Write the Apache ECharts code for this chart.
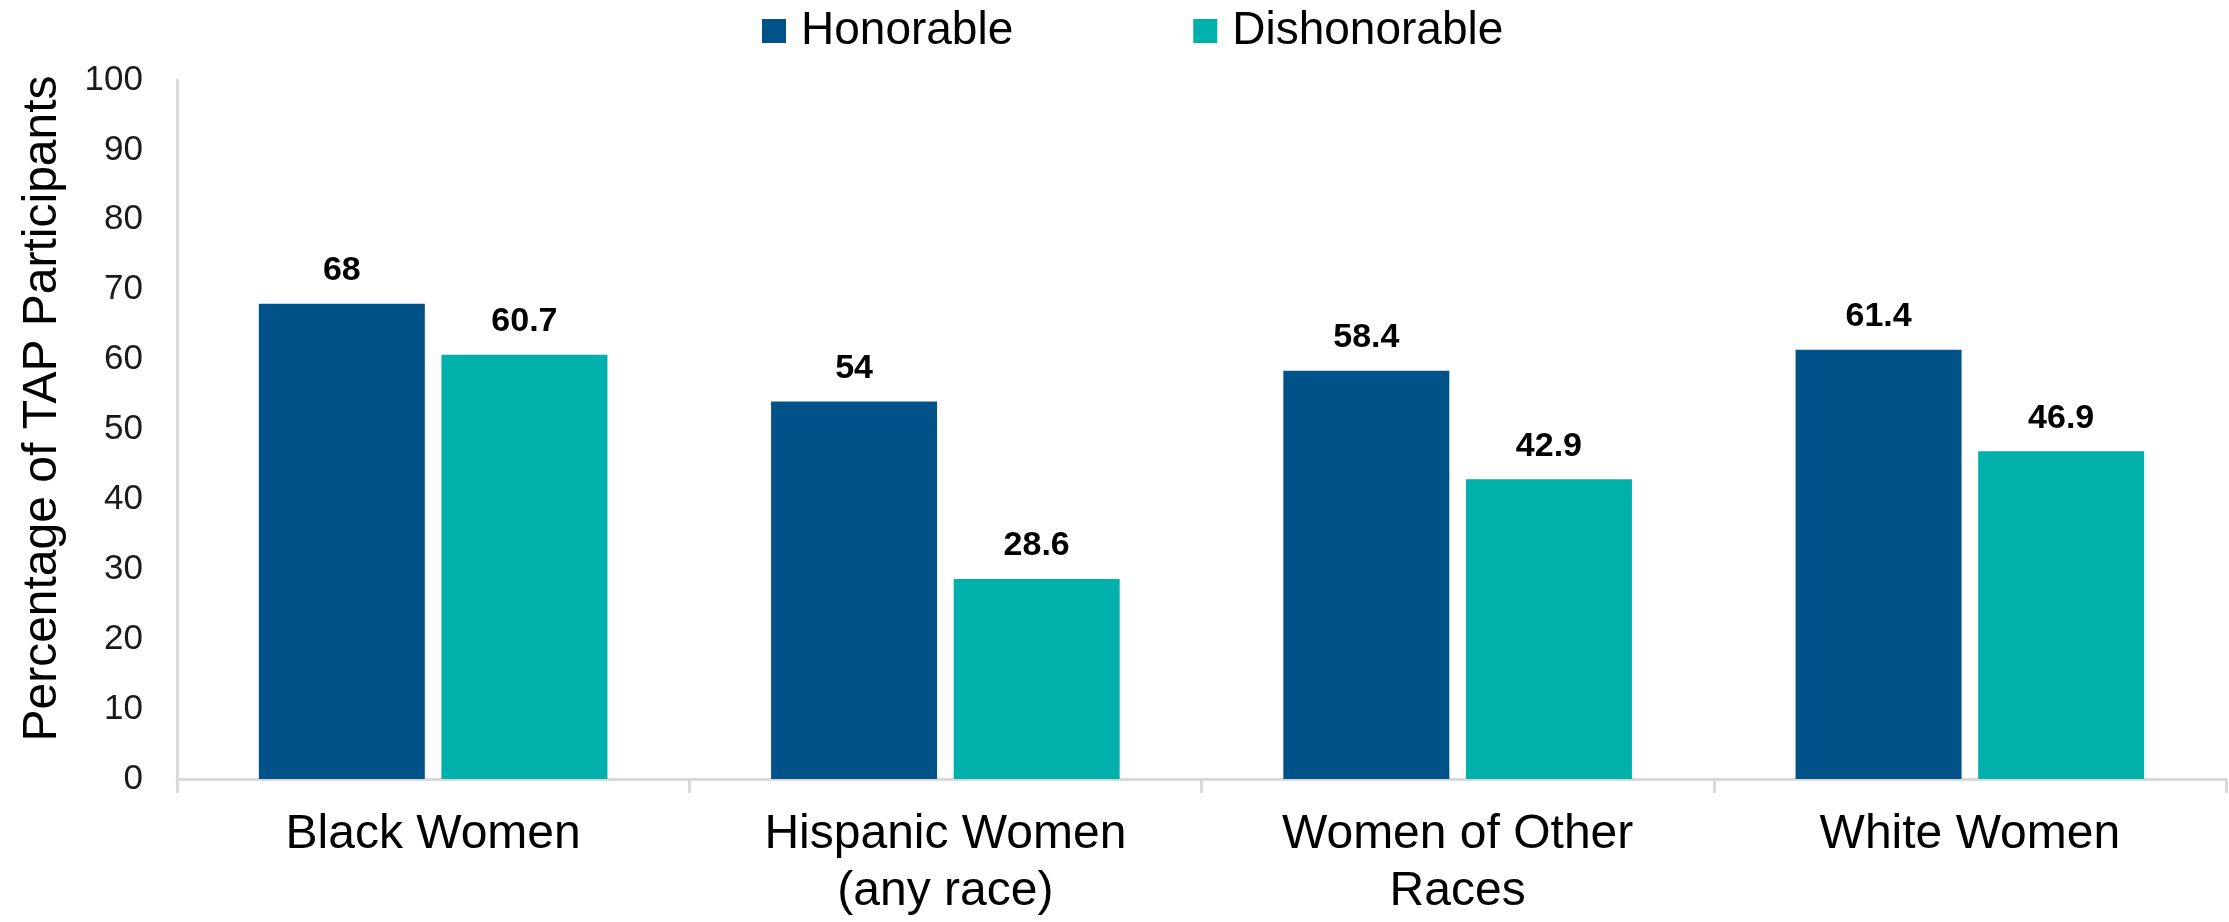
<!DOCTYPE html>
<html>
<head>
<meta charset="utf-8">
<script src="https://cdn.jsdelivr.net/npm/echarts@6/dist/echarts.min.js"></script>
<style>
html,body{margin:0;padding:0;background:#fff;}
#chart{width:2229px;height:922px;}
</style>
</head>
<body>
<div id="chart"></div>
<script>
const categories = ['Black Women', 'Hispanic Women\n(any race)', 'Women of Other\nRaces', 'White Women'];
const honorable = [68, 54, 58.4, 61.4];
const dishonorable = [60.7, 28.6, 42.9, 46.9];
const seriesNames = ['Honorable', 'Dishonorable'];
const yAxisTitle = 'Percentage of TAP Participants';

const FONT = '"Liberation Sans", Arial, Helvetica, sans-serif';
const chart = echarts.init(document.getElementById('chart'), null, {renderer: 'canvas'});

const labelCfg = {
  show: true,
  position: 'top',
  distance: 16,
  fontFamily: FONT,
  fontSize: 34,
  fontWeight: 'bold',
  color: '#000'
};

chart.setOption({
  animation: false,
  backgroundColor: '#fff',
  textStyle: {fontFamily: FONT},
  legend: {
    data: seriesNames,
    left: 762,
    top: 8,
    padding: 0,
    itemWidth: 24,
    itemHeight: 24,
    itemGap: 180,
    icon: 'rect',
    formatter: '{a|{name}}',
    textStyle: {
      fontFamily: FONT,
      fontSize: 46,
      color: '#000',
      rich: {a: {fontFamily: FONT, fontSize: 46, color: '#000', padding: [0, 0, 0, 10]}}
    }
  },
  grid: {left: 177, right: 3, top: 80, bottom: 143, containLabel: false},
  xAxis: {
    type: 'category',
    data: categories,
    axisLine: {show: true, lineStyle: {color: '#d9d9d9', width: 3}},
    axisTick: {show: true, length: 14, lineStyle: {color: '#d9d9d9', width: 3}},
    axisLabel: {
      fontFamily: FONT,
      fontSize: 48,
      color: '#000',
      lineHeight: 57,
      margin: 27,
      interval: 0
    },
    splitLine: {show: false}
  },
  yAxis: {
    type: 'value',
    min: 0,
    max: 100,
    interval: 10,
    name: yAxisTitle,
    nameLocation: 'middle',
    nameGap: 110,
    nameTextStyle: {fontFamily: FONT, fontSize: 48, color: '#000', padding: [0, 0, 0, 42]},
    axisLine: {show: true, lineStyle: {color: '#d9d9d9', width: 3}},
    axisTick: {show: false},
    axisLabel: {fontFamily: FONT, fontSize: 35, color: '#1a1a1a', margin: 34},
    splitLine: {show: false}
  },
  series: [
    {
      name: seriesNames[0],
      type: 'bar',
      data: honorable,
      barWidth: 166,
      barGap: '10%',
      itemStyle: {color: '#02528A'},
      label: labelCfg
    },
    {
      name: seriesNames[1],
      type: 'bar',
      data: dishonorable,
      barWidth: 166,
      barGap: '10%',
      itemStyle: {color: '#00B0AA'},
      label: labelCfg
    }
  ]
});
</script>
</body>
</html>
